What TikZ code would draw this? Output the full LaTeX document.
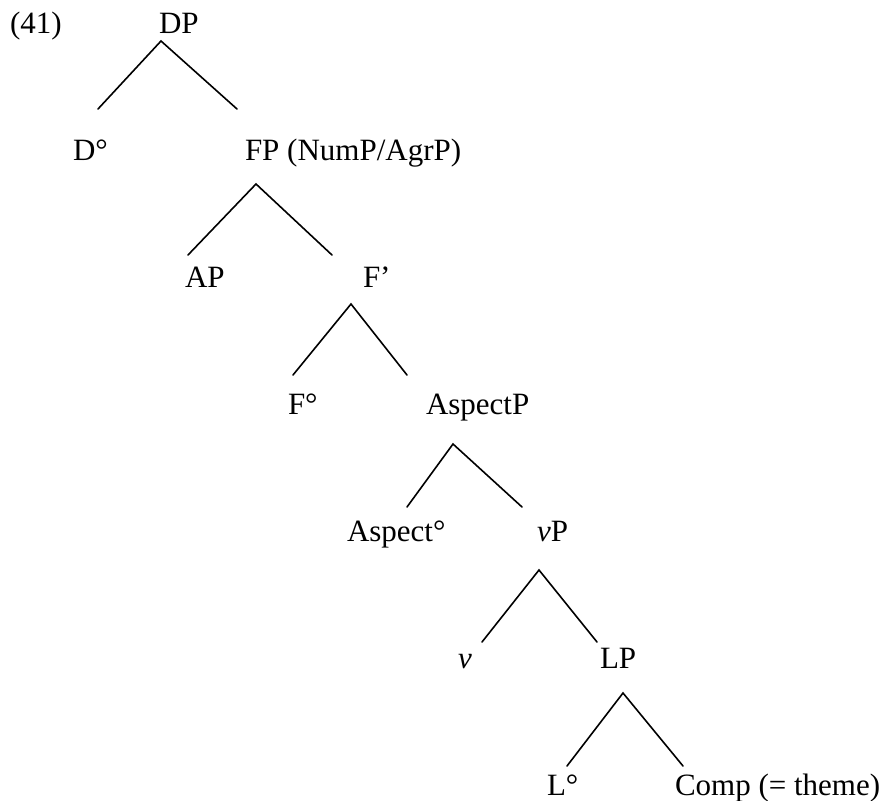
\documentclass[tikz,border=0pt]{standalone}
\usepackage{fontspec}
\setmainfont{Liberation Serif}
\tikzset{
    % Tree labels and branches
    tree label/.style={anchor=base west,inner sep=0pt,outer sep=0pt,font=\fontsize{31}{37}\selectfont},
    branch/.style={line width=1.6pt,line cap=round}
}

\begin{document}
\begin{tikzpicture}
        [
            x=1pt,y=-1pt
        ]
        \useasboundingbox (0,0) rectangle (887,801);
        % labels
        \node[tree label] (ex) at (10,33) {(41)};
        \node[tree label] (DP) at (159,33) {DP};
        \node[tree label] (D) at (73,160) {D°};
        \node[tree label] (FP) at (245,160) {FP (NumP/AgrP)};
        \node[tree label] (AP) at (185,287) {AP};
        \node[tree label] (Fbar) at (363,287) {F’};
        \node[tree label] (F) at (288,414) {F°};
        \node[tree label] (AspP) at (426,414) {AspectP};
        \node[tree label] (Asp) at (347,541) {Aspect°};
        \node[tree label] (vP) at (537,541) {\textit{v}P};
        \node[tree label] (v) at (458,668) {\textit{v}};
        \node[tree label] (LP) at (600,668) {LP};
        \node[tree label] (L) at (547,795) {L°};
        \node[tree label] (Comp) at (675,795) {Comp (= theme)};
        % branches
        \draw[branch] ([shift={(-8,-51)}]FP.base west) -- ([shift={(2,8)}]DP.base west) -- ([shift={(25,-51)}]D.base west);
        \draw[branch] ([shift={(-31,-32)}]Fbar.base west) -- ([shift={(11,24)}]FP.base west) -- ([shift={(3,-32)}]AP.base west);
        \draw[branch] ([shift={(-19,-39)}]AspP.base west) -- ([shift={(-12,17)}]Fbar.base west) -- ([shift={(5,-39)}]F.base west);
        \draw[branch] ([shift={(-15,-34)}]vP.base west) -- ([shift={(27,30)}]AspP.base west) -- ([shift={(60,-34)}]Asp.base west);
        \draw[branch] ([shift={(-3,-26)}]LP.base west) -- ([shift={(2,29)}]vP.base west) -- ([shift={(24,-26)}]v.base west);
        \draw[branch] ([shift={(8,-29)}]Comp.base west) -- ([shift={(23,25)}]LP.base west) -- ([shift={(20,-29)}]L.base west);
    \end{tikzpicture}
\end{document}
